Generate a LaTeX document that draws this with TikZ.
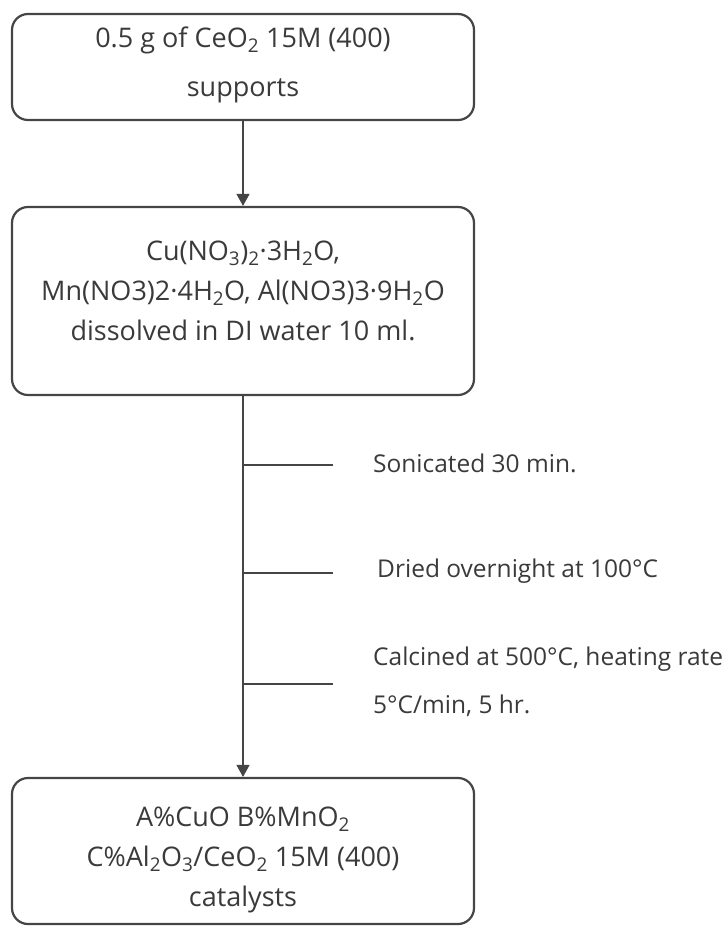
\documentclass[tikz,border=0pt]{standalone}
\usepackage{fontspec}
\setmainfont{Open Sans}
\usetikzlibrary{arrows.meta}
\definecolor{txt}{HTML}{3A3A3A}
\definecolor{ln}{HTML}{454545}
\begin{document}
\begin{tikzpicture}[x=1pt,y=1pt,
  box/.style={draw=ln,line width=2.2pt,rounded corners=16pt,minimum width=462pt,inner sep=0pt},
  btext/.style={align=center,text=txt,font=\fontsize{27}{40}\selectfont,inner sep=0pt},
  conn/.style={draw=ln,line width=1.1pt},
  arr/.style={conn,-{Triangle[width=13pt,length=12pt]}},
  lbl/.style={anchor=west,text=txt,font=\fontsize{24.5}{48}\selectfont,align=left,inner sep=0pt}]
\useasboundingbox (0,0) rectangle (726,-927);
\node[box,minimum height=106pt] (b1) at (243,-67) {};
\node[box,minimum height=188pt] (b2) at (243,-301) {};
\node[box,minimum height=146pt] (b3) at (243,-851) {};
\node[btext,font=\fontsize{27}{49}\selectfont] (b1t) at ([yshift=2pt]b1.center) {0.5 g of CeO\textsubscript{2} 15M (400)\\supports};
\node[btext] (b2t) at ([yshift=10pt]b2.center) {Cu(NO\textsubscript{3})\textsubscript{2}·3H\textsubscript{2}O,\\Mn(NO3)2·4H\textsubscript{2}O, Al(NO3)3·9H\textsubscript{2}O\\dissolved in DI water 10 ml.};
\node[btext] (b3t) at ([yshift=-9pt]b3.center) {A\%CuO B\%MnO\textsubscript{2}\\C\%Al\textsubscript{2}O\textsubscript{3}/CeO\textsubscript{2} 15M (400)\\catalysts};
\draw[arr] (b1.south) -- (b2.north);
\draw[arr] (b2.south) -- (b3.north);
\coordinate (t1) at (243,-465);
\coordinate (t2) at (243,-573);
\coordinate (t3) at (243,-684);
\draw[conn] (t1) -- ++(90,0);
\draw[conn] (t2) -- ++(90,0);
\draw[conn] (t3) -- ++(90,0);
\node[lbl] (l1) at (373,-463) {Sonicated 30 min.};
\node[lbl] (l2) at (377,-571) {Dried overnight at 100°C};
\node[lbl] (l3) at (373,-682) {Calcined at 500°C, heating rate\\5°C/min, 5 hr.};
\end{tikzpicture}
\end{document}
